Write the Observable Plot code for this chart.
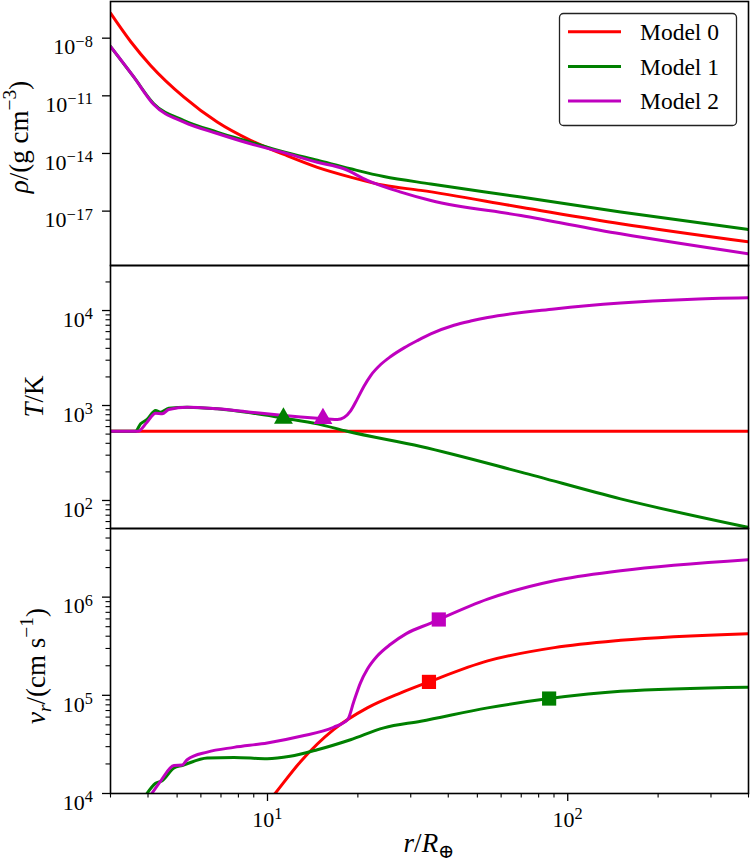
<!DOCTYPE html>
<html><head><meta charset="utf-8">
<script src="https://cdn.jsdelivr.net/npm/d3@7"></script>
<script src="https://cdn.jsdelivr.net/npm/@observablehq/plot@0.6"></script>
<style>
body{margin:0;background:#fff;}
#chart{width:750px;background:#fff;}
#chart svg{display:block;}
</style></head><body><div id="chart"></div>
<script>
// ---------- data ----------
const models = ["Model 0", "Model 1", "Model 2"];
const colors = ["#ff0000", "#008000", "#bf00bf"];

// density rho (g cm^-3) vs r/R_earth
const rhoX0 = [3.0, 3.5, 4.08, 5.27, 6.8, 8.78, 11.34, 14.66, 18.9, 24.4, 32.4, 69.8, 150, 400];
const rhoY0 = [2.0e-7, 6.7e-9, 3.8e-10, 8.5e-12, 4.3e-13, 4.8e-14, 8.9e-15, 1.9e-15, 5.9e-16, 2.2e-16, 1.2e-16, 1.6e-17, 2.2e-18, 2.5e-19];
const rhoX1 = [3.0, 3.59, 4.18, 5.27, 6.8, 8.78, 11.34, 14.66, 18.9, 24.4, 35, 69.8, 150, 400];
const rhoY1 = [3.7e-9, 9.3e-11, 3.9e-12, 5.2e-13, 1.3e-13, 3.9e-14, 1.2e-14, 4.4e-15, 1.6e-15, 6.3e-16, 2.6e-16, 5.4e-17, 8.9e-18, 1.1e-18];
const rhoX2 = [3.0, 3.59, 4.18, 5.27, 6.8, 8.78, 11.34, 14.66, 17.97, 21.5, 27.8, 35, 69.8, 150, 400];
const rhoY2 = [3.7e-9, 9.3e-11, 3.5e-12, 4.3e-13, 1.1e-13, 3.2e-14, 1.1e-14, 3.5e-15, 1.6e-15, 4.0e-16, 9.8e-17, 3.6e-17, 5.9e-18, 6.6e-19, 6.0e-20];

// temperature T (K)
const tX0 = [3.0, 400];
const tY0 = [535, 535];
const tX1 = [3.0, 3.63, 3.78, 3.97, 4.24, 4.40, 4.69, 5.40, 6.80, 8.78, 11.34, 14.66, 18.4, 32.4, 69.8, 150, 400];
const tY1 = [535, 535, 641, 713, 886, 851, 938, 960, 922, 837, 735, 641, 535, 370, 199, 104, 52];
const tX2 = [3.0, 3.7, 3.97, 4.24, 4.46, 4.69, 5.40, 6.80, 8.78, 11.34, 14.66, 17.09, 17.98, 18.92, 19.92, 20.96, 22.07, 23.82, 25.72, 28.5, 31.57, 34.98, 41.8, 47.5, 54.1, 90.2, 150, 250, 400];
const tY2 = [535, 535, 667, 830, 817, 908, 960, 922, 851, 785, 735, 712, 748, 879, 1175, 1598, 2070, 2701, 3280, 4046, 4830, 5680, 7000, 7750, 8450, 10400, 12000, 13100, 13600];
const triX = [11.3, 15.3];
const triY = [735, 728];
const triModel = ["Model 1", "Model 2"];

// radial velocity v_r (cm s^-1)
const vX0 = [10.0, 10.6, 12.9, 16.6, 21.5, 27.8, 34.5, 54.1, 90.2, 150, 400];
const vY0 = [8.0e3, 1.0e4, 2.12e4, 4.47e4, 7.45e4, 1.06e5, 1.37e5, 2.24e5, 3.06e5, 3.63e5, 4.25e5];
const vX1 = [3.95, 4.24, 4.46, 4.88, 5.2, 6.3, 7.73, 9.98, 11.9, 14.66, 18.9, 24.4, 32.4, 54.1, 86.7, 150, 400];
const vY1 = [0.98e4, 1.27e4, 1.35e4, 1.82e4, 1.93e4, 2.30e4, 2.33e4, 2.26e4, 2.39e4, 2.79e4, 3.53e4, 4.66e4, 5.45e4, 7.45e4, 9.27e4, 1.10e5, 1.21e5];
const vX2 = [4.10, 4.40, 4.88, 5.2, 5.40, 6.3, 7.73, 9.98, 12.9, 16.6, 18.5, 19.4, 20.4, 21.5, 23.2, 25.7, 29.0, 35, 37.2, 54.1, 90.2, 150, 400];
const vY2 = [0.98e4, 1.33e4, 1.93e4, 1.95e4, 2.21e4, 2.64e4, 2.95e4, 3.27e4, 3.83e4, 4.73e4, 5.66e4, 8.7e4, 1.34e5, 1.84e5, 2.51e5, 3.31e5, 4.25e5, 5.45e5, 5.92e5, 9.55e5, 1.47e6, 1.86e6, 2.41e6];
const sqX = [34.5, 86.7, 37.2];
const sqY = [1.37e5, 9.27e4, 5.92e5];
const sqModel = ["Model 0", "Model 1", "Model 2"];

// axes
const xDomain = [3, 400];
const xMajor = [10, 100];
const xMinor = [3, 4, 5, 6, 7, 8, 9, 20, 30, 40, 50, 60, 70, 80, 90, 200, 300, 400];
const rhoDomain = [1.48e-20, 8.1e-7];
const rhoMajor = [1e-17, 1e-14, 1e-11, 1e-8];
const tDomain = [50.7, 2.98e4];
const tMajor = [1e2, 1e3, 1e4];
const tMinor = [60, 70, 80, 90, 200, 300, 400, 500, 600, 700, 800, 900, 2000, 3000, 4000, 5000, 6000, 7000, 8000, 9000, 20000];
const vDomain = [1e4, 5.0e6];
const vMajor = [1e4, 1e5, 1e6];
const vMinor = [2e4, 3e4, 4e4, 5e4, 6e4, 7e4, 8e4, 9e4, 2e5, 3e5, 4e5, 5e5, 6e5, 7e5, 8e5, 9e5, 2e6, 3e6, 4e6, 5e6];

// ---------- helpers ----------
const FONT = "'Liberation Serif', 'DejaVu Serif', serif";
const TICK_FS = 22;
const TITLE_FS = 27;
const rows = (model, xs, ys) => xs.map((x, i) => ({model, x, y: ys[i]}));
const fmtPow = d => "10^" + Math.round(Math.log10(d));

function common(height, mt, mb, yDomain) {
  return {
    width: 750, height, marginLeft: 110, marginRight: 2, marginTop: mt, marginBottom: mb,
    style: {fontFamily: FONT, fontSize: TICK_FS + "px", color: "black", background: "white", overflow: "visible"},
    x: {type: "log", domain: xDomain},
    y: {type: "log", domain: yDomain},
    color: {domain: models, range: colors}
  };
}
function yAxes(major, minor) {
  const m = [Plot.axisY({ticks: major, tickSize: 8, tickPadding: 9, tickFormat: fmtPow, label: null, strokeWidth: 1.3, fontSize: TICK_FS})];
  if (minor) m.push(Plot.axisY({ticks: minor, tickSize: 4.5, tickFormat: () => "", label: null, strokeWidth: 1.1}));
  return m;
}
function fixSup(svg, dyBase) {
  d3.select(svg).selectAll("text").each(function () {
    const t = this.textContent;
    if (!t.includes("^")) return;
    const [base, exp] = t.split("^");
    const s = d3.select(this);
    if (dyBase) s.attr("dy", dyBase);
    s.text(null);
    s.append("tspan").text(base);
    s.append("tspan").attr("dy", "-0.48em").attr("font-size", "0.74em").attr("letter-spacing", "0.5px")
      .text(exp.replace("-", "\u2212"));
  });
}
function addTitle(svg, x, y, rotate, parts, size) {
  const t = d3.select(svg).append("text")
    .attr("transform", `translate(${x},${y})${rotate ? " rotate(-90)" : ""}`)
    .attr("text-anchor", "middle").attr("font-family", FONT).attr("font-size", size).attr("fill", "black");
  let shift = 0;
  for (const p of parts) {
    const target = p.sup ? -0.45 * size : p.sub ? 0.22 * size : 0;
    const sp = t.append("tspan").text(p.t);
    if (target !== shift) { sp.attr("dy", target - shift); shift = target; }
    if (p.it) sp.attr("font-style", "italic");
    if (p.sup || p.sub) sp.attr("font-size", size * 0.72);
  }
}

// ---------- panel 1: density ----------
const p1 = Plot.plot({
  ...common(265, 1, 0, rhoDomain),
  x: {type: "log", domain: xDomain, axis: null},
  marks: [
    ...yAxes(rhoMajor, null),
    Plot.line([...rows("Model 0", rhoX0, rhoY0), ...rows("Model 1", rhoX1, rhoY1), ...rows("Model 2", rhoX2, rhoY2)],
      {x: "x", y: "y", z: "model", stroke: "model", strokeWidth: 3, curve: "monotone-x", clip: true}),
    Plot.frame({stroke: "black", strokeWidth: 1.6})
  ]
});

// ---------- panel 2: temperature ----------
const p2 = Plot.plot({
  ...common(263, 0, 0, tDomain),
  x: {type: "log", domain: xDomain, axis: null},
  marks: [
    ...yAxes(tMajor, tMinor),
    Plot.line([...rows("Model 0", tX0, tY0), ...rows("Model 1", tX1, tY1), ...rows("Model 2", tX2, tY2)],
      {x: "x", y: "y", z: "model", stroke: "model", strokeWidth: 3, curve: "monotone-x", clip: true}),
    Plot.dot(rows(null, triX, triY).map((d, i) => ({...d, model: triModel[i]})),
      {x: "x", y: "y", fill: "model", symbol: "triangle", r: 7, stroke: null}),
    Plot.frame({stroke: "black", strokeWidth: 1.6})
  ]
});

// ---------- panel 3: velocity ----------
const p3 = Plot.plot({
  ...common(337, 0, 72, vDomain),
  marks: [
    ...yAxes(vMajor, vMinor),
    Plot.axisX({ticks: xMajor, tickSize: 8, tickPadding: 10, tickFormat: fmtPow, label: null, strokeWidth: 1.3, fontSize: TICK_FS}),
    Plot.axisX({ticks: xMinor, tickSize: 4.5, tickFormat: () => "", label: null, strokeWidth: 1.1}),
    Plot.line([...rows("Model 0", vX0, vY0), ...rows("Model 1", vX1, vY1), ...rows("Model 2", vX2, vY2)],
      {x: "x", y: "y", z: "model", stroke: "model", strokeWidth: 3, curve: "monotone-x", clip: true}),
    Plot.dot(rows(null, sqX, sqY).map((d, i) => ({...d, model: sqModel[i]})),
      {x: "x", y: "y", fill: "model", symbol: "square", r: 8, stroke: null}),
    Plot.frame({stroke: "black", strokeWidth: 1.6})
  ]
});

const chart = document.getElementById("chart");
[p1, p2, p3].forEach(p => chart.appendChild(p));

// superscript tick labels
fixSup(p1, "0.42em"); fixSup(p2, "0.42em");
d3.select(p3).selectAll('g[aria-label="y-axis tick label"] text').attr("dy", "0.42em");
fixSup(p3, null);

// axis titles
addTitle(p1, 28, 137, true, [{t: "\u03c1", it: true}, {t: "/(g cm"}, {t: "\u22123", sup: true}, {t: ")"}], TITLE_FS);
addTitle(p2, 43, 396.5 - 265, true, [{t: "T", it: true}, {t: "/K"}], TITLE_FS);
addTitle(p3, 45, 666 - 528, true, [{t: "v", it: true}, {t: "r", it: true, sub: true}, {t: "/(cm s"}, {t: "\u22121", sup: true}, {t: ")"}], TITLE_FS);
addTitle(p3, 429, 852 - 528, false, [{t: "r", it: true}, {t: "/"}, {t: "R", it: true}, {t: "\u2295", sub: true}], TITLE_FS);

// legend (top panel)
const lg = d3.select(p1).append("g").attr("font-family", FONT).attr("font-size", 23.5).attr("text-anchor", "start");
lg.append("rect").attr("x", 559.5).attr("y", 13.5).attr("width", 177).attr("height", 112).attr("rx", 4)
  .attr("fill", "white").attr("stroke", "#222").attr("stroke-width", 1.3);
models.forEach((m, i) => {
  const y = 31.7 + i * 34.7;
  lg.append("line").attr("x1", 568).attr("x2", 621).attr("y1", y).attr("y2", y)
    .attr("stroke", colors[i]).attr("stroke-width", 3);
  lg.append("text").attr("x", 640).attr("y", y + 8.3).attr("text-anchor", "start").attr("fill", "black").text(m);
});
</script></body></html>
